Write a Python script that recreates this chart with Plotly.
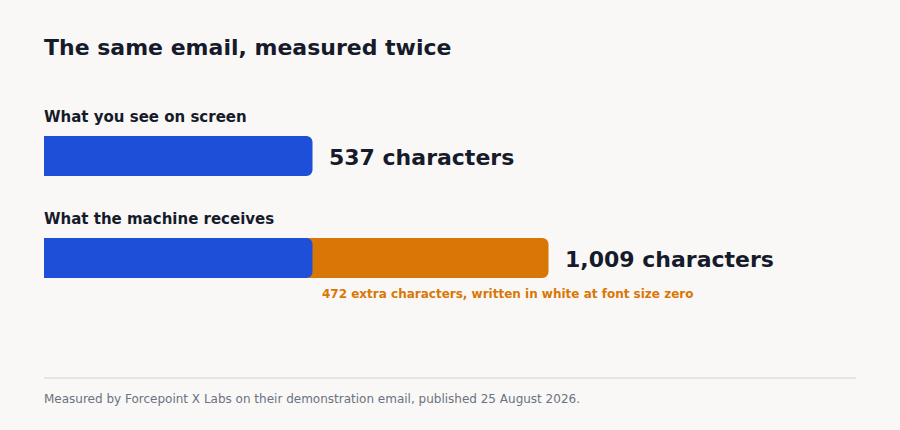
import plotly.graph_objects as go

# Data
rows = ["What you see on screen", "What the machine receives"]
visible_chars = [537, 537]
total_chars = [537, 1009]
value_labels = ["537 characters", "1,009 characters"]
extra_chars = 1009 - 537

BLUE = "#1d4fd8"
ORANGE = "#d97706"
INK = "#161b2b"
BG = "#f9f8f6"
FONT = "DejaVu Sans"

fig = go.Figure()

# orange = whole message the machine receives (drawn first, blue on top)
fig.add_trace(go.Bar(
    y=rows[1:], x=total_chars[1:], orientation="h",
    marker=dict(color=ORANGE, cornerradius=6, line=dict(width=0)),
    hoverinfo="skip",
))
# blue on its own overlaid axis so its end keeps rounded corners
fig.add_trace(go.Bar(
    y=rows, x=visible_chars, orientation="h", yaxis="y2",
    marker=dict(color=BLUE, cornerradius=6, line=dict(width=0)),
    hoverinfo="skip",
))

# row labels above the bars
for r in rows:
    fig.add_annotation(x=0, y=r, xref="x", yref="y", text="<b>%s</b>" % r,
                       showarrow=False, xanchor="left", yanchor="middle",
                       xshift=-2, yshift=39, font=dict(size=15, color=INK))

# value labels to the right
for r, v, lab in zip(rows, total_chars, value_labels):
    fig.add_annotation(x=v, y=r, xref="x", yref="y", text="<b>%s</b>" % lab,
                       showarrow=False, xanchor="left", yanchor="middle",
                       xshift=14, yshift=-1, font=dict(size=22, color=INK))

# note under the orange part
fig.add_annotation(x=visible_chars[1], y=rows[1], xref="x", yref="y",
                   text="<b>%d extra characters, written in white at font size zero</b>" % extra_chars,
                   showarrow=False, xanchor="left", yanchor="middle",
                   xshift=7, yshift=-36, font=dict(size=12, color=ORANGE))

# footer rule and source
fig.add_shape(type="line", xref="paper", yref="paper", x0=0, x1=1,
              y0=-0.338, y1=-0.338, line=dict(color="#dcdfe5", width=1.5))
fig.add_annotation(x=0, y=-0.441, xref="paper", yref="paper",
                   text="Measured by Forcepoint X Labs on their demonstration email, published 25 August 2026.",
                   showarrow=False, xanchor="left", yanchor="middle", xshift=-2,
                   font=dict(size=12, color="#6b7280"))

yax = dict(range=[1.5, -0.5], visible=False, fixedrange=True,
           type="category", categoryorder="array", categoryarray=rows)

fig.update_layout(
    width=900, height=430,
    title=dict(text="<b>The same email, measured twice</b>",
               xref="container", x=44 / 900, xanchor="left",
               yref="container", y=1 - 47 / 430, yanchor="middle",
               font=dict(size=22, color=INK, family=FONT)),
    font=dict(family=FONT),
    barmode="overlay", bargap=0.608,
    showlegend=False,
    paper_bgcolor=BG, plot_bgcolor=BG,
    margin=dict(l=44, r=44, t=105, b=121),
    xaxis=dict(range=[0, 1624], visible=False, fixedrange=True),
    yaxis=yax,
    yaxis2=dict(yax, overlaying="y"),
)

fig.write_html("out.html", config={"displayModeBar": False},
               post_script="document.body.style.margin='0';document.body.style.background='%s';" % BG)
